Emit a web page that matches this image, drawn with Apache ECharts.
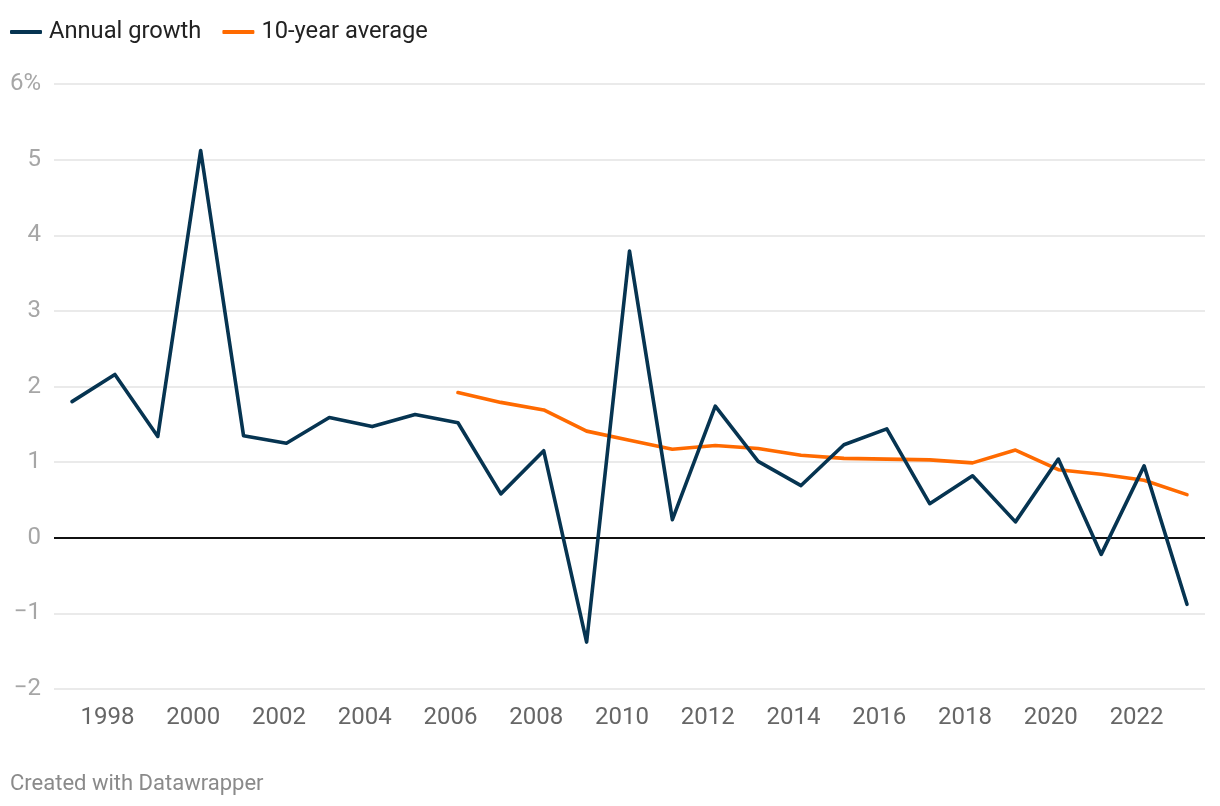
<!DOCTYPE html>
<html>
<head>
<meta charset="utf-8">
<script src="https://cdn.jsdelivr.net/npm/echarts@6/dist/echarts.min.js"></script>
<style>
  html, body { margin: 0; padding: 0; background: #fff; }
  #chart { width: 1220px; height: 806px; }
</style>
</head>
<body>
<div id="chart"></div>
<script>
const years = [1997,1998,1999,2000,2001,2002,2003,2004,2005,2006,2007,2008,2009,2010,2011,2012,2013,2014,2015,2016,2017,2018,2019,2020,2021,2022,2023];
const annualGrowth = [1.80,2.16,1.34,5.12,1.35,1.25,1.59,1.47,1.63,1.52,0.58,1.15,-1.38,3.79,0.24,1.74,1.01,0.69,1.23,1.44,0.45,0.82,0.21,1.04,-0.22,0.95,-0.88];
const tenYearAvg = [null,null,null,null,null,null,null,null,null,1.92,1.79,1.69,1.41,1.29,1.17,1.22,1.18,1.09,1.05,1.04,1.03,0.99,1.16,0.90,0.84,0.76,0.57];
const xTickLabels = [1998,2000,2002,2004,2006,2008,2010,2012,2014,2016,2018,2020,2022];
const yTicks = [-2,-1,0,1,2,3,4,5,6];

const toPairs = (vals) => years.map((y, i) => [y, vals[i]]).filter(p => p[1] !== null);

const chart = echarts.init(document.getElementById('chart'), null, { renderer: 'canvas' });
const font = 'Roboto, "DejaVu Sans", sans-serif';

chart.setOption({
  animation: false,
  backgroundColor: '#ffffff',
  textStyle: { fontFamily: font },
  title: {
    text: 'Created with Datawrapper',
    left: 10,
    top: 773,
    padding: 0,
    textStyle: { fontSize: 22, fontWeight: 'normal', color: '#8a8a8a', fontFamily: font }
  },
  legend: {
    left: 10,
    top: 20,
    padding: 0,
    itemWidth: 32,
    itemHeight: 4,
    itemGap: 21,
    icon: 'roundRect',
    data: ['Annual growth', '10-year average'],
    textStyle: { fontSize: 23.7, color: '#222', fontFamily: font, padding: [0, 0, 0, 2] }
  },
  grid: { left: 54, right: 15, top: 84, bottom: 117, containLabel: false },
  xAxis: {
    type: 'value',
    min: 1996.58,
    max: 2023.42,
    axisLine: { show: false },
    axisTick: { show: false },
    splitLine: { show: false },
    axisLabel: {
      customValues: xTickLabels,
      fontSize: 24,
      color: '#666',
      fontFamily: font,
      margin: 17,
      padding: [0, 15, 0, 0],
      formatter: (v) => String(v)
    }
  },
  yAxis: {
    type: 'value',
    min: yTicks[0],
    max: yTicks[yTicks.length - 1],
    interval: 1,
    axisLine: { show: false },
    axisTick: { show: false },
    axisLabel: {
      fontSize: 24,
      color: '#a6a6a6',
      fontFamily: font,
      margin: 13,
      padding: [4, 0, 0, 0],
      formatter: (v) => (v === 6 ? '6%' : (v < 0 ? '\u2212' + Math.abs(v) : String(v)))
    },
    splitLine: { show: true, lineStyle: { color: '#e3e3e3', width: 1.5 } }
  },
  series: [
    {
      name: 'Annual growth',
      type: 'line',
      data: toPairs(annualGrowth),
      showSymbol: false,
      symbol: 'none',
      z: 4,
      color: '#063451',
      lineStyle: { color: '#063451', width: 3.6, join: 'round', cap: 'round' },
      markLine: {
        silent: true,
        symbol: 'none',
        label: { show: false },
        lineStyle: { color: '#111', width: 2, type: 'solid' },
        data: [{ yAxis: 0 }],
        z: 1
      }
    },
    {
      name: '10-year average',
      type: 'line',
      data: toPairs(tenYearAvg),
      showSymbol: false,
      symbol: 'none',
      z: 3,
      color: '#ff6a00',
      lineStyle: { color: '#ff6a00', width: 3.6, join: 'round', cap: 'round' }
    }
  ]
});
</script>
</body>
</html>
